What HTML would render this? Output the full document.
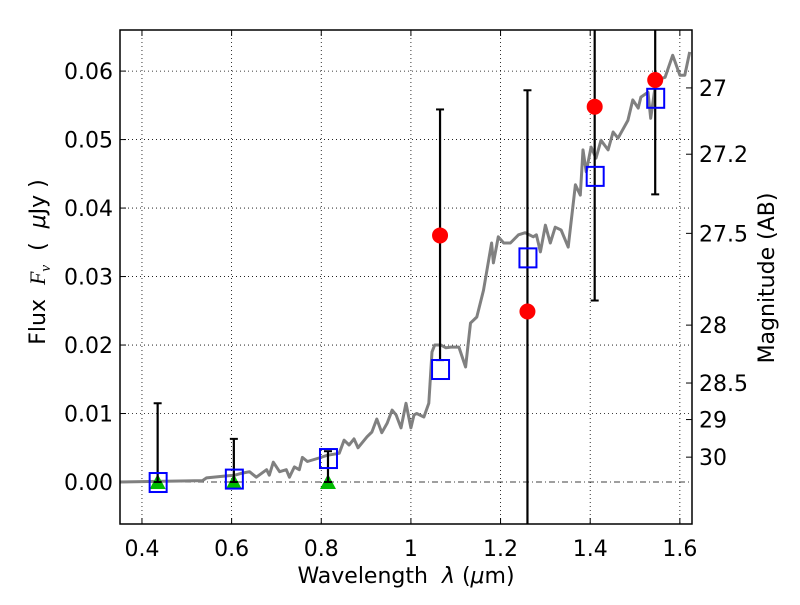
<!DOCTYPE html>
<html><head><meta charset="utf-8"><style>
body{margin:0;background:#fff;}
svg text{font-family:"DejaVu Sans","Liberation Sans",sans-serif;fill:#000;}
</style></head><body>
<svg id="chart" width="800" height="600" viewBox="0 0 800 600" xmlns="http://www.w3.org/2000/svg"></svg>
<script>
const specLam=[0.351,0.535,0.544,0.589,0.607,0.624,0.640,0.655,0.678,0.684,0.693,0.707,0.722,0.729,0.740,0.751,0.758,0.769,0.795,0.813,0.840,0.851,0.862,0.873,0.882,0.902,0.913,0.924,0.935,0.947,0.958,0.967,0.978,0.989,1.000,1.007,1.013,1.029,1.040,1.047,1.053,1.067,1.078,1.089,1.107,1.122,1.133,1.147,1.162,1.180,1.184,1.195,1.207,1.222,1.240,1.255,1.273,1.280,1.289,1.300,1.311,1.322,1.335,1.351,1.367,1.378,1.384,1.391,1.402,1.413,1.424,1.440,1.451,1.462,1.484,1.495,1.507,1.513,1.529,1.535,1.547,1.567,1.584,1.600,1.611,1.622];
const specFlux=[0.0000,0.0002,0.0006,0.0009,0.0010,0.0013,0.0015,0.0007,0.0018,0.0010,0.0029,0.0015,0.0018,0.0007,0.0022,0.0018,0.0036,0.0030,0.0035,0.0039,0.0042,0.0061,0.0054,0.0063,0.0050,0.0066,0.0073,0.0092,0.0072,0.0086,0.0105,0.0098,0.0079,0.0115,0.0079,0.0098,0.0100,0.0095,0.0115,0.0190,0.0200,0.0200,0.0196,0.0197,0.0197,0.0168,0.0232,0.0241,0.0280,0.0349,0.0320,0.0358,0.0349,0.0349,0.0361,0.0364,0.0358,0.0361,0.0336,0.0375,0.0349,0.0372,0.0368,0.0343,0.0434,0.0419,0.0485,0.0453,0.0489,0.0473,0.0499,0.0485,0.0511,0.0502,0.0528,0.0558,0.0546,0.0562,0.0569,0.0531,0.0587,0.0591,0.0623,0.0594,0.0594,0.0628];
const modelLam=[0.435,0.605,0.815,1.065,1.26,1.41,1.545];
const modelFlux=[0.0,0.0005,0.0035,0.0165,0.0328,0.0447,0.0561];
const obsLam=[1.065,1.26,1.41,1.545];
const obsFlux=[0.036,0.0249,0.0548,0.0587];
const errLam=[0.435,0.605,0.815,1.065,1.26,1.41,1.545];
const errLow=[0.0,0.0,0.0,0.0178,-0.02,0.0265,0.042];
const errHigh=[0.0115,0.0063,0.0045,0.0544,0.0572,0.08,0.08];
const errCapLow=[false,false,false,true,false,true,true];
const errCapHigh=[true,true,true,true,true,false,false];
const limLam=[0.435,0.605,0.815];
const limFlux=[0,0,0];
const xTicks=[0.4,0.6,0.8,1.0,1.2,1.4,1.6];
const xTickLabels=["0.4","0.6","0.8","1","1.2","1.4","1.6"];
const yTicks=[0,0.01,0.02,0.03,0.04,0.05,0.06];
const yTickLabels=["0.00","0.01","0.02","0.03","0.04","0.05","0.06"];
const magTicks=[27,27.2,27.5,28,28.5,29,30];
const magLabels=["27","27.2","27.5","28","28.5","29","30"];

const L=120,R=692,T=30,B=524;
const xMin=0.351,xMax=1.6271,yMin=-0.00613,yMax=0.066;
const X=v=>L+(v-xMin)/(xMax-xMin)*(R-L);
const Y=v=>B-(v-yMin)/(yMax-yMin)*(B-T);
const svg=document.getElementById('chart');
const NS='http://www.w3.org/2000/svg';
function mk(tag,attrs,parent){const e=document.createElementNS(NS,tag);for(const k in attrs)e.setAttribute(k,attrs[k]);(parent||svg).appendChild(e);return e;}

const clip=mk('clipPath',{id:'pc'});mk('rect',{x:L,y:T,width:R-L,height:B-T},clip);

xTicks.forEach((t,i)=>{
  const g=mk('line',{x1:X(t),x2:X(t),y1:T,y2:B,stroke:'#000','stroke-width':0.8,'stroke-dasharray':'1,3'});
  
  
  const tk=mk('line',{x1:X(t),x2:X(t),y1:B,y2:B-6,stroke:'#000','stroke-width':1});
  
  
  const tt=mk('line',{x1:X(t),x2:X(t),y1:T,y2:T+6,stroke:'#000','stroke-width':1});
  
  
  const lb=mk('text',{x:X(t),y:B+32,'text-anchor':'middle','font-size':22});
  lb.textContent=xTickLabels[i];
  
  
});
yTicks.forEach((t,i)=>{
  if(t!==0){
    const g=mk('line',{x1:L,x2:R,y1:Y(t),y2:Y(t),stroke:'#000','stroke-width':0.8,'stroke-dasharray':'1,3'});
    
    
  }
  const tk=mk('line',{x1:L,x2:L+6,y1:Y(t),y2:Y(t),stroke:'#000','stroke-width':1});
  
  
  const lb=mk('text',{x:L-7,y:Y(t)+8,'text-anchor':'end','font-size':22});
  lb.textContent=yTickLabels[i];
  
  
});
const zl=mk('line',{x1:L,x2:R,y1:Y(0),y2:Y(0),stroke:'#000','stroke-width':0.8,'stroke-dasharray':'6,3,1,3'});



magTicks.forEach((m,i)=>{
  const f=Math.pow(10,(23.9-m)/2.5);
  const tk=mk('line',{x1:R,x2:R-6,y1:Y(f),y2:Y(f),stroke:'#000','stroke-width':1});
  
  
  const lb=mk('text',{x:R+7,y:Y(f)+8,'text-anchor':'start','font-size':22});
  lb.textContent=magLabels[i];
  
  
});

const pg=mk('g',{'clip-path':'url(#pc)'});


const sp=mk('polyline',{points:specLam.map((l,i)=>X(l).toFixed(1)+','+Y(specFlux[i]).toFixed(1)).join(' '),fill:'none',stroke:'#808080','stroke-width':3,'stroke-linejoin':'round'},pg);


limLam.forEach((l,i)=>{
  const x=X(l),y=Y(limFlux[i]);
  const t=mk('polygon',{points:`${x},${y-8} ${x-8},${y+7} ${x+8},${y+7}`,fill:'#00bb00'},pg);
  
  
});
errLam.forEach((l,i)=>{
  const x=X(l);
  const e=mk('line',{x1:x,x2:x,y1:Y(errLow[i]),y2:Y(errHigh[i]),stroke:'#000','stroke-width':2.2},pg);
  
  
  if(errCapHigh[i]){const c=mk('line',{x1:x-4,x2:x+4,y1:Y(errHigh[i]),y2:Y(errHigh[i]),stroke:'#000','stroke-width':2},pg);
    
    }
  if(errCapLow[i]||errLow[i]===0){const c=mk('line',{x1:x-4,x2:x+4,y1:Y(errLow[i]),y2:Y(errLow[i]),stroke:'#000','stroke-width':2},pg);
    
    }
});
modelLam.forEach((l,i)=>{
  const s=mk('rect',{x:X(l)-8,y:Y(modelFlux[i])-9,width:17,height:19,fill:'none',stroke:'#0000ff','stroke-width':2},pg);
  
  
});
obsLam.forEach((l,i)=>{
  const c=mk('circle',{cx:X(l),cy:Y(obsFlux[i]),r:8,fill:'#ff0000'},pg);
  
  
});

const fr=mk('rect',{x:L,y:T,width:R-L,height:B-T,fill:'none',stroke:'#000','stroke-width':1.5});


</script>
<svg style="position:absolute;left:0;top:0" width="800" height="600">
<text x="406" y="583" text-anchor="middle" font-size="22" font-family="DejaVu Sans, Liberation Sans, sans-serif" xml:space="preserve">Wavelength  <tspan font-style="italic">λ</tspan> (<tspan font-style="italic">μ</tspan>m)</text>
<text transform="translate(45,262) rotate(-90)" text-anchor="middle" font-size="22" font-family="DejaVu Sans, Liberation Sans, sans-serif" xml:space="preserve">Flux  <tspan font-style="italic" font-family="Liberation Serif, serif">F<tspan font-size="15" dy="5">ν</tspan></tspan><tspan dy="-5">  (  </tspan><tspan font-style="italic">μ</tspan>Jy )</text>
<text transform="translate(774,278) rotate(-90)" text-anchor="middle" font-size="22" font-family="DejaVu Sans, Liberation Sans, sans-serif">Magnitude (AB)</text>
</svg>
</body></html>
